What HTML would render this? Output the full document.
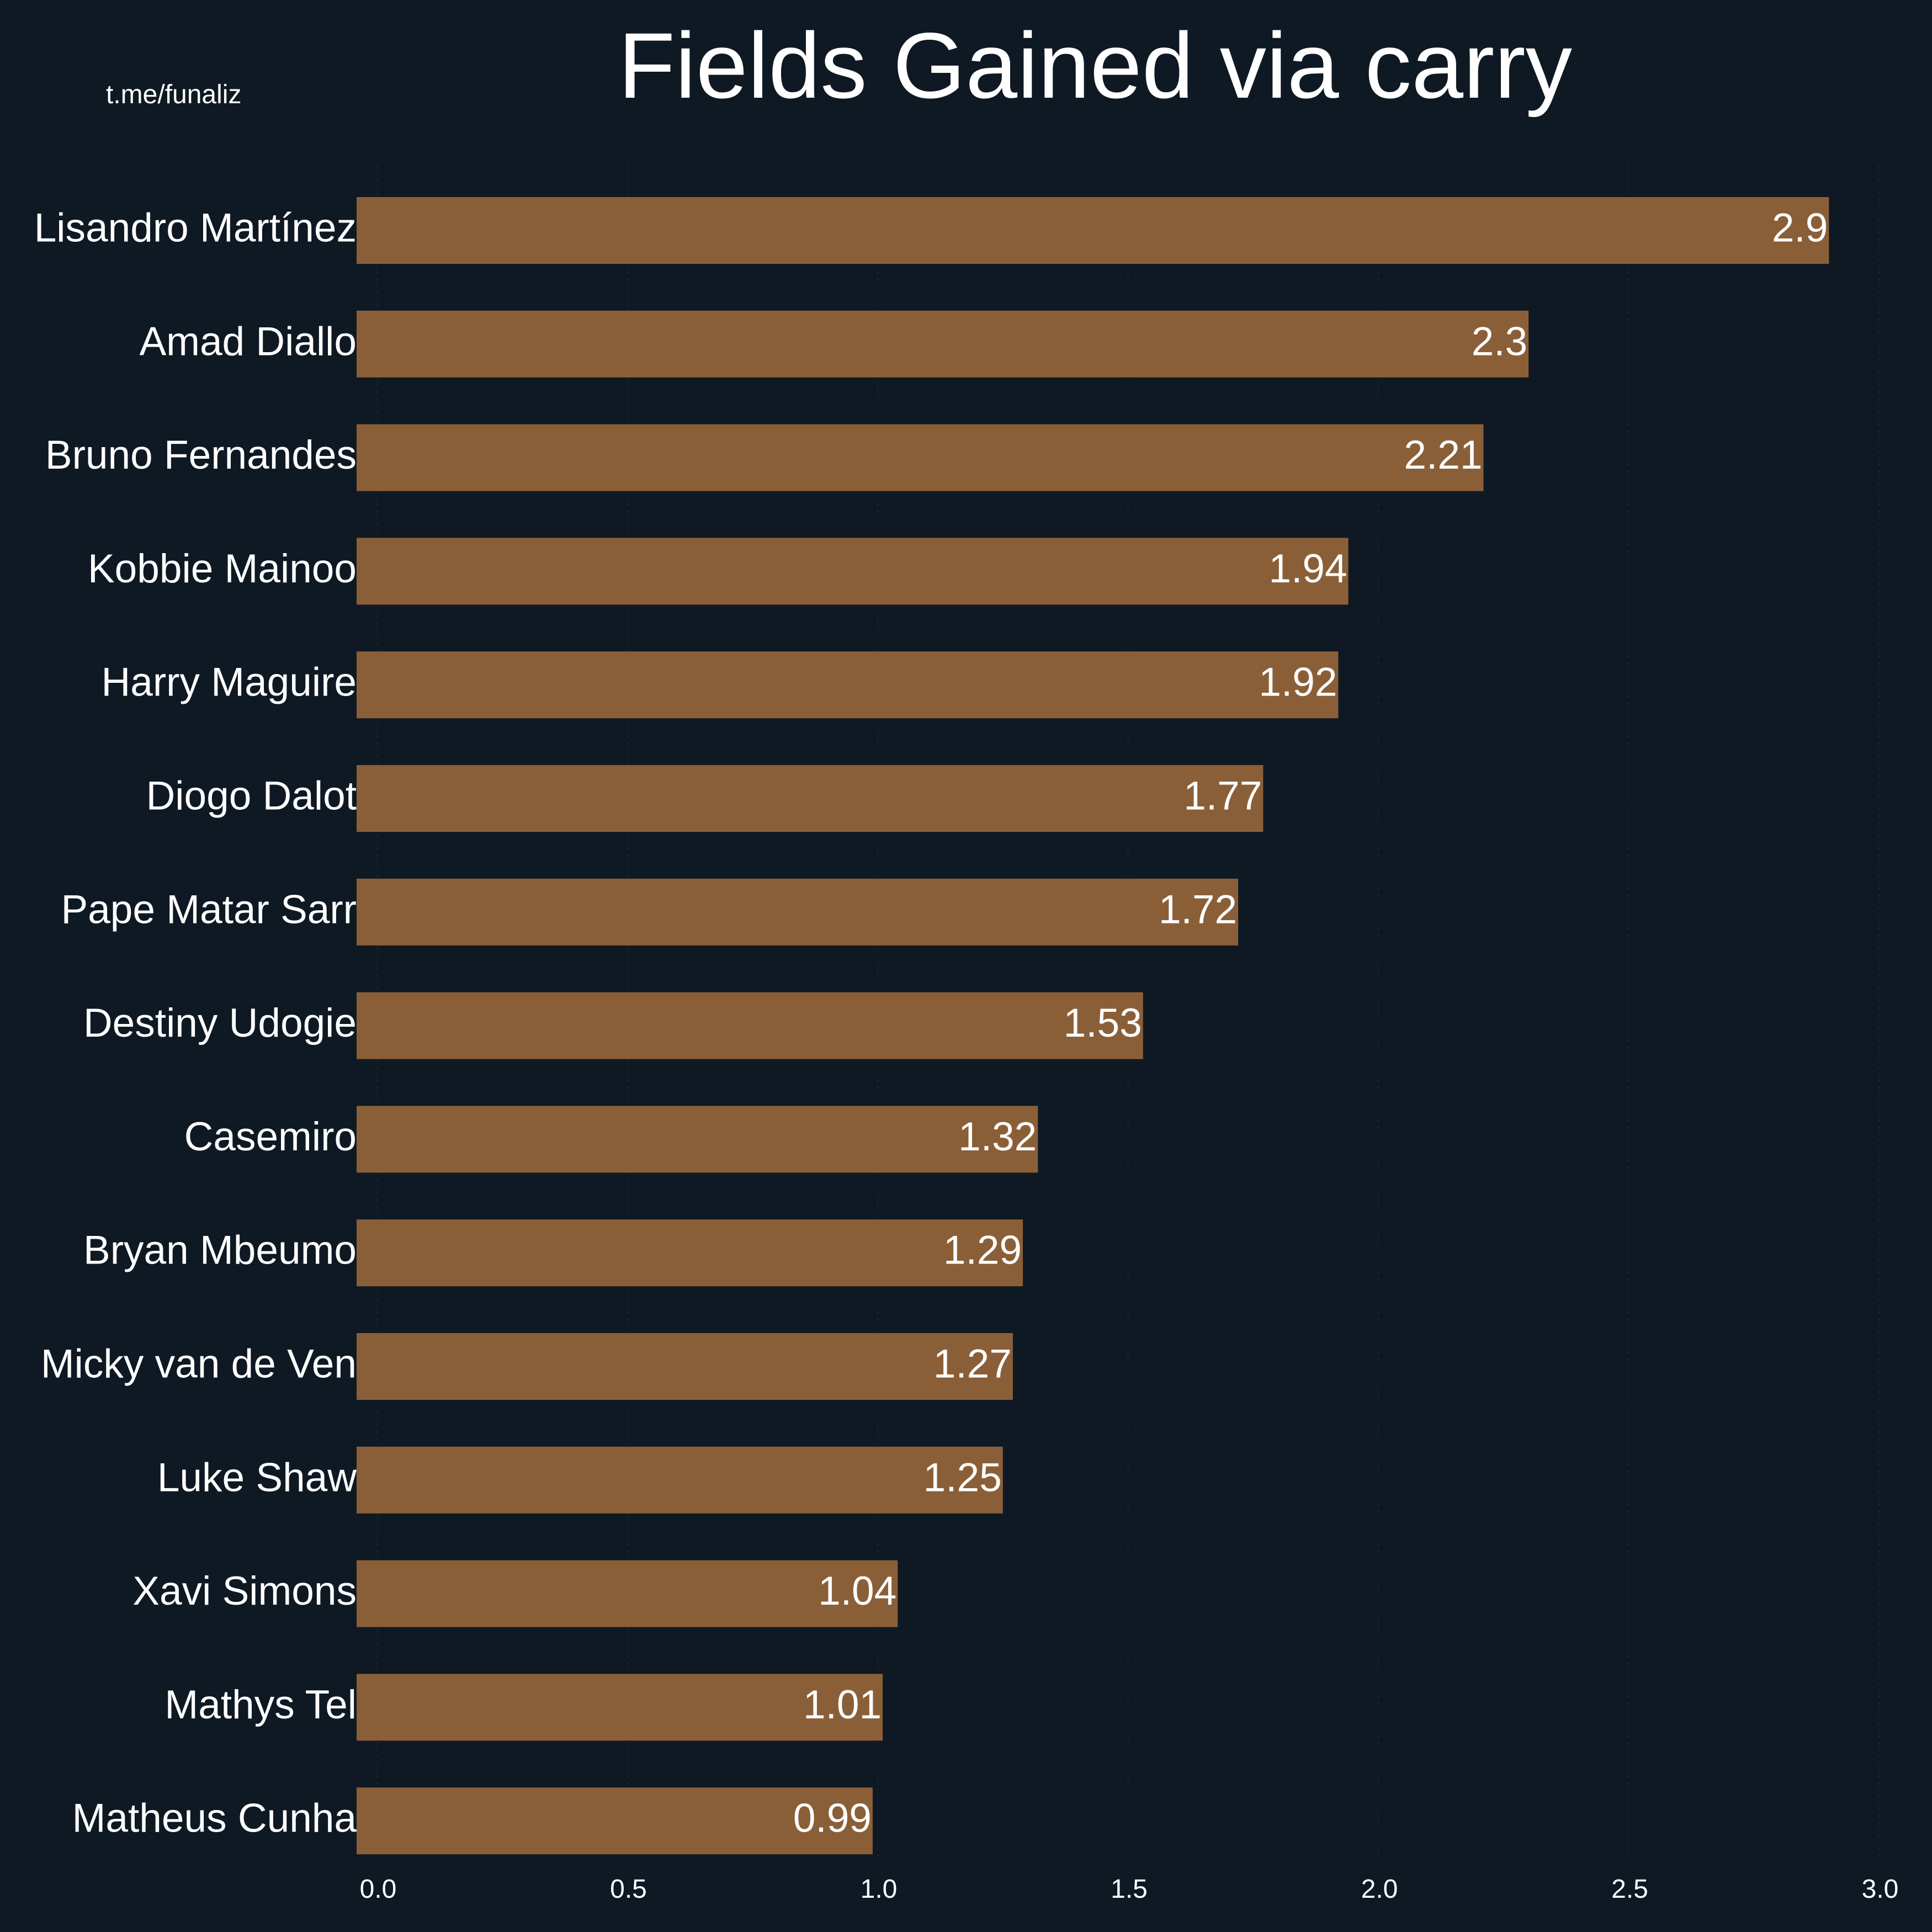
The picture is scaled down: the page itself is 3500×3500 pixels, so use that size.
<!DOCTYPE html>
<html><head><meta charset="utf-8">
<style>
html,body{margin:0;padding:0;background:#0f1923;}
svg{display:block;}
text{font-family:"Liberation Sans",Arial,sans-serif;fill:#ffffff;}
</style></head>
<body>
<svg id="chart" width="3500" height="3500" viewBox="0 0 3500 3500" xmlns="http://www.w3.org/2000/svg">
<rect x="0" y="0" width="3500" height="3500" fill="#0f1923"/>
<text x="1984" y="177" font-size="169" text-anchor="middle">Fields Gained via carry</text>
<text x="192" y="187" font-size="48">t.me/funaliz</text>
<g id="grid"></g>
<g id="bars"></g>
<g id="xticks"></g>
</svg>
<script>
const players = ["Lisandro Martínez","Amad Diallo","Bruno Fernandes","Kobbie Mainoo","Harry Maguire","Diogo Dalot","Pape Matar Sarr","Destiny Udogie","Casemiro","Bryan Mbeumo","Micky van de Ven","Luke Shaw","Xavi Simons","Mathys Tel","Matheus Cunha"];
const values = [2.9,2.3,2.21,1.94,1.92,1.77,1.72,1.53,1.32,1.29,1.27,1.25,1.04,1.01,0.99];
const valueLabels = ["2.9","2.3","2.21","1.94","1.92","1.77","1.72","1.53","1.32","1.29","1.27","1.25","1.04","1.01","0.99"];
const ticks = [0,0.5,1.0,1.5,2.0,2.5,3.0];
const tickLabels = ["0.0","0.5","1.0","1.5","2.0","2.5","3.0"];

const NS="http://www.w3.org/2000/svg";
const x0=683, unit=907, barStart=646;
function xScale(v){return x0+v*unit;}
function yCenter(i){return 417.5+i*205.8;}
const barH=121;

const grid=document.getElementById('grid');
const xt=document.getElementById('xticks');
ticks.forEach((t,i)=>{
  const l=document.createElementNS(NS,'line');
  
  
  l.setAttribute('x1',xScale(t));l.setAttribute('x2',xScale(t));
  l.setAttribute('y1',300);l.setAttribute('y2',3365);
  l.setAttribute('stroke','#1a2631');l.setAttribute('stroke-width','2');
  l.setAttribute('stroke-dasharray','4 8');
  grid.appendChild(l);
  const tx=document.createElementNS(NS,'text');
  
  
  tx.setAttribute('x',xScale(t)+2);tx.setAttribute('y',3438);
  tx.setAttribute('font-size','48');tx.setAttribute('text-anchor','middle');
  tx.textContent=tickLabels[i];
  xt.appendChild(tx);
});

const bars=document.getElementById('bars');
players.forEach((p,i)=>{
  const c=yCenter(i);
  const r=document.createElementNS(NS,'rect');
  
  
  r.setAttribute('x',barStart);r.setAttribute('y',c-barH/2);
  r.setAttribute('width',xScale(values[i])-barStart);r.setAttribute('height',barH);
  r.setAttribute('fill','#8a5f38');
  bars.appendChild(r);
  const lab=document.createElementNS(NS,'text');
  
  
  lab.setAttribute('x',646);lab.setAttribute('y',c+20);
  lab.setAttribute('font-size','73');lab.setAttribute('text-anchor','end');
  lab.textContent=p;
  bars.appendChild(lab);
  const vl=document.createElementNS(NS,'text');
  
  
  vl.setAttribute('x',xScale(values[i])-2);vl.setAttribute('y',c+20);
  vl.setAttribute('font-size','73');vl.setAttribute('text-anchor','end');
  vl.textContent=valueLabels[i];
  bars.appendChild(vl);
});
</script>
</body></html>
